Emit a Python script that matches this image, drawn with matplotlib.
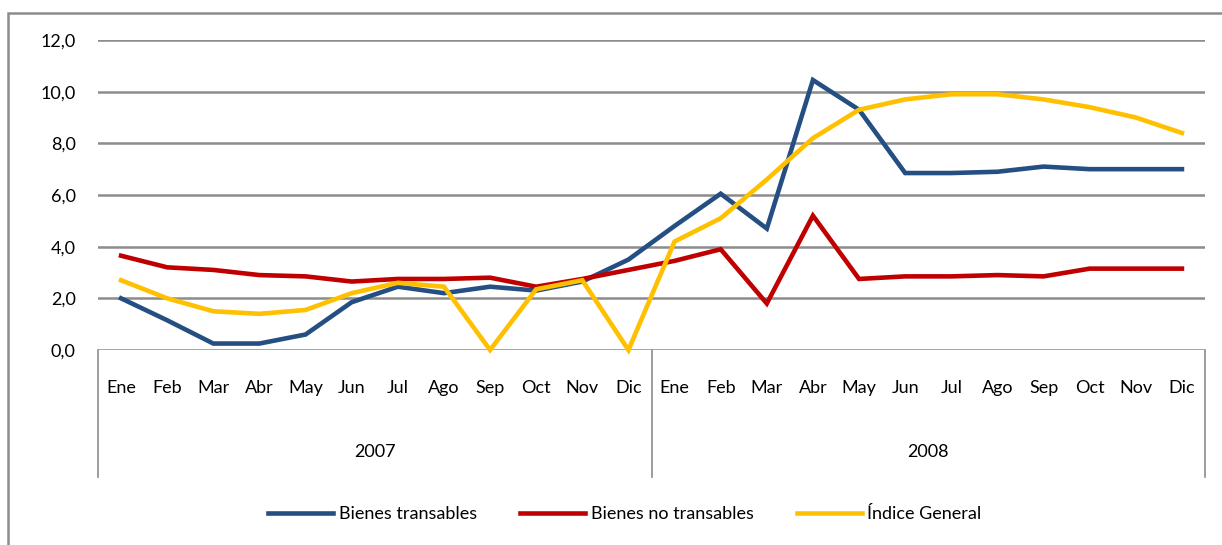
import matplotlib
matplotlib.use("Agg")
import matplotlib.pyplot as plt
from matplotlib.lines import Line2D
from matplotlib.patches import Rectangle
from matplotlib.transforms import blended_transform_factory

plt.rcParams['font.family'] = ['Lato', 'DejaVu Sans']

# data
months = ["Ene", "Feb", "Mar", "Abr", "May", "Jun", "Jul", "Ago", "Sep", "Oct", "Nov", "Dic"]
years = ["2007", "2008"]
transables = [2.0, 1.15, 0.25, 0.25, 0.6, 1.85, 2.45, 2.2, 2.45, 2.3, 2.65, 3.5,
              4.8, 6.05, 4.7, 10.45, 9.3, 6.85, 6.85, 6.9, 7.1, 7.0, 7.0, 7.0]
no_transables = [3.65, 3.2, 3.1, 2.9, 2.85, 2.65, 2.75, 2.75, 2.8, 2.45, 2.75, 3.1,
                 3.45, 3.9, 1.8, 5.2, 2.75, 2.85, 2.85, 2.9, 2.85, 3.15, 3.15, 3.15]
indice_general = [2.7, 2.0, 1.5, 1.4, 1.55, 2.2, 2.6, 2.45, 0.0, 2.35, 2.7, 0.0,
                  4.2, 5.1, 6.6, 8.2, 9.3, 9.7, 9.9, 9.9, 9.7, 9.4, 9.0, 8.4]
yticks = [0, 2, 4, 6, 8, 10, 12]

series = [
    ("Bienes transables", transables, "#254E83"),
    ("Bienes no transables", no_transables, "#C00000"),
    ("Índice General", indice_general, "#FFC000"),
]

W, H = 1222, 545
fig = plt.figure(figsize=(W / 100, H / 100), dpi=100)
ax = fig.add_axes([98 / W, 1 - 350 / H, (1205 - 98) / W, 310 / H])

n = len(months) * len(years)
x = list(range(n))
for label, vals, color in series:
    ax.plot(x, vals, color=color, lw=3.3, label=label, solid_joinstyle="miter",
            clip_on=False, zorder=3)

ax.set_xlim(-0.5, n - 0.5)
ax.set_ylim(0, 12)
ax.set_yticks(yticks)
ax.set_yticklabels([f"{v:.1f}".replace(".", ",") for v in yticks], fontsize=13)
ax.tick_params(axis="y", length=0, pad=16)
ax.set_xticks([])
for s in ax.spines.values():
    s.set_visible(False)
ax.grid(axis="y", color="#8C8C8C", lw=1.8, zorder=1)

# category axis: months, years and separators
tr = blended_transform_factory(ax.transData, ax.transAxes)
for i in range(n):
    ax.text(i, -0.123, months[i % 12], transform=tr, ha="center", va="center", fontsize=13)
for j, yr in enumerate(years):
    ax.text(j * 12 + 5.5, -0.33, yr, transform=tr, ha="center", va="center", fontsize=13)
for b in [-0.5, 11.5, 23.5]:
    ax.plot([b, b], [0, -0.41], transform=tr, color="#8C8C8C", lw=1.2, clip_on=False)

# outer chart border
fig.patches.append(Rectangle((8 / W, -0.05), 1.1, 1 - 13 / H + 0.05, transform=fig.transFigure,
                             fill=False, edgecolor="#8C8C8C", lw=1.8))

handles = [Line2D([], [], color=c, lw=3.3) for _, _, c in series]
fig.legend(handles, [s[0] for s in series], loc="center", bbox_to_anchor=(625 / W, 1 - 514 / H),
           ncol=3, frameon=False, fontsize=13, handlelength=3.6, handletextpad=0.3,
           columnspacing=2.4)

fig.savefig("out.png", dpi=100)
